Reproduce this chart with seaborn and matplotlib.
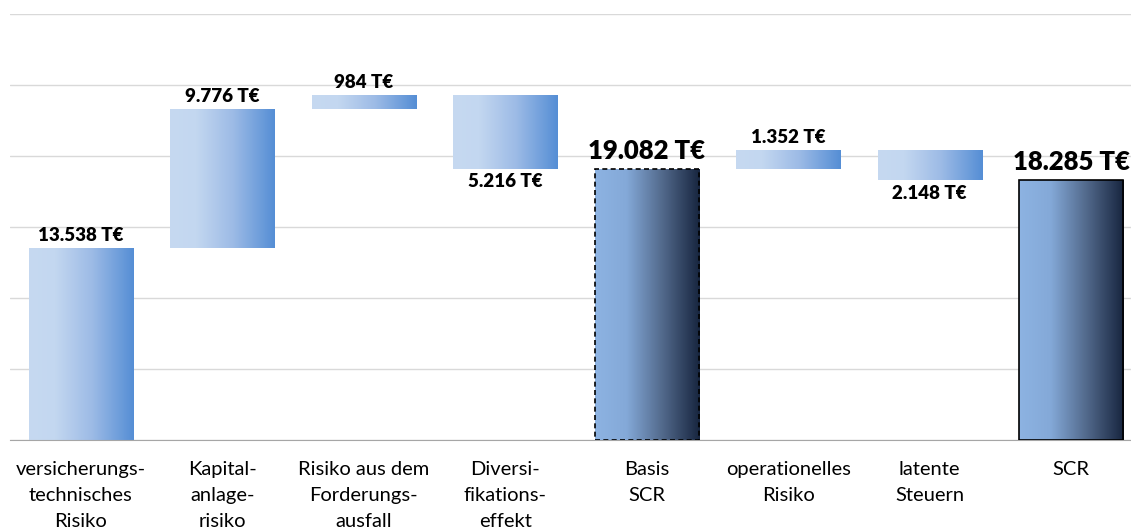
import numpy as np
import pandas as pd
import seaborn as sns
import matplotlib.pyplot as plt
from matplotlib.colors import LinearSegmentedColormap

# waterfall data (T€)
categories = ["versicherungs-\ntechnisches\nRisiko", "Kapital-\nanlage-\nrisiko",
              "Risiko aus dem\nForderungs-\nausfall", "Diversi-\nfikations-\neffekt",
              "Basis\nSCR", "operationelles\nRisiko", "latente\nSteuern", "SCR"]
values = [13538, 9776, 984, -5216, 19082, 1352, -2148, 18285]
is_total = [False, False, False, False, True, False, False, True]
labels = ["13.538 T€", "9.776 T€", "984 T€", "5.216 T€", "19.082 T€",
          "1.352 T€", "2.148 T€", "18.285 T€"]

# running bottoms / tops of each bar
bottoms, tops = [], []
level = 0
for v, tot in zip(values, is_total):
    if tot:
        bottoms.append(0)
        tops.append(v)
        level = v
    else:
        lo, hi = sorted([level, level + v])
        bottoms.append(lo)
        tops.append(hi)
        level += v

df = pd.DataFrame({"cat": categories, "span": np.array(tops) - np.array(bottoms)})

sns.set_style("white")
plt.rcParams["font.family"] = ["Lato", "DejaVu Sans"]

fig = plt.figure(figsize=(11.31, 5.29), dpi=100)
ax = fig.add_axes([0.0088, 0.168, 1.0009, 0.8055])

sns.barplot(data=df, x="cat", y="span", ax=ax, width=0.735, color="white")

delta_cmap = LinearSegmentedColormap.from_list(
    "delta", [(0, "#c6d9f1"), (0.25, "#c3d7f0"), (0.6, "#9dbbe6"), (1, "#558ed5")])
total_cmap = LinearSegmentedColormap.from_list(
    "total", [(0, "#8db3e2"), (0.3, "#84a9d8"), (0.65, "#51688a"), (1, "#17253f")])
grad = np.linspace(0, 1, 256).reshape(1, -1)

for i, p in enumerate(ax.patches):
    p.set_y(bottoms[i])
    p.set_height(tops[i] - bottoms[i])
    p.set_facecolor("none")
    x0, w = p.get_x(), p.get_width()
    cmap = total_cmap if is_total[i] else delta_cmap
    im = ax.imshow(grad, cmap=cmap, aspect="auto", zorder=1.5,
                   extent=[x0, x0 + w, bottoms[i], tops[i]])
    im.set_clip_path(p)
    if is_total[i]:
        p.set_edgecolor("black")
        p.set_linewidth(1.2)
        p.set_zorder(3)
        if i == 4:
            p.set_linestyle((0, (3, 2)))
        ax.text(i, tops[i] + 450, labels[i], ha="center", va="bottom",
                fontsize=18.5, fontweight="heavy", color="black")
    else:
        p.set_edgecolor("none")
        if values[i] >= 0:
            ax.text(i, tops[i] + 300, labels[i], ha="center", va="bottom",
                    fontsize=13.5, fontweight="heavy", color="black")
        else:
            ax.text(i, bottoms[i] - 300, labels[i], ha="center", va="top",
                    fontsize=13.5, fontweight="heavy", color="black")

ax.set_xlim(-0.5, 7.5)
ax.set_ylim(0, 30000)
ax.set_yticks(np.arange(0, 30001, 5000))
ax.set_yticklabels([])
ax.tick_params(axis="y", length=0)
ax.yaxis.grid(True, color="#d9d9d9", linewidth=1)
ax.set_axisbelow(True)

ax.set_xticks(range(len(categories)))
ax.set_xticklabels(categories, fontsize=14.5, linespacing=1.65, color="black")
ax.set_xticks(np.arange(-0.5, 8, 1), minor=True)
ax.tick_params(axis="x", which="major", length=0, pad=15)
ax.tick_params(axis="x", which="minor", length=6, color="#a6a6a6", width=1)
ax.set_xlabel("")
ax.set_ylabel("")

for s in ["left", "right", "top"]:
    ax.spines[s].set_visible(False)
ax.spines["bottom"].set_color("#a6a6a6")

fig.savefig("out.png", dpi=100)
